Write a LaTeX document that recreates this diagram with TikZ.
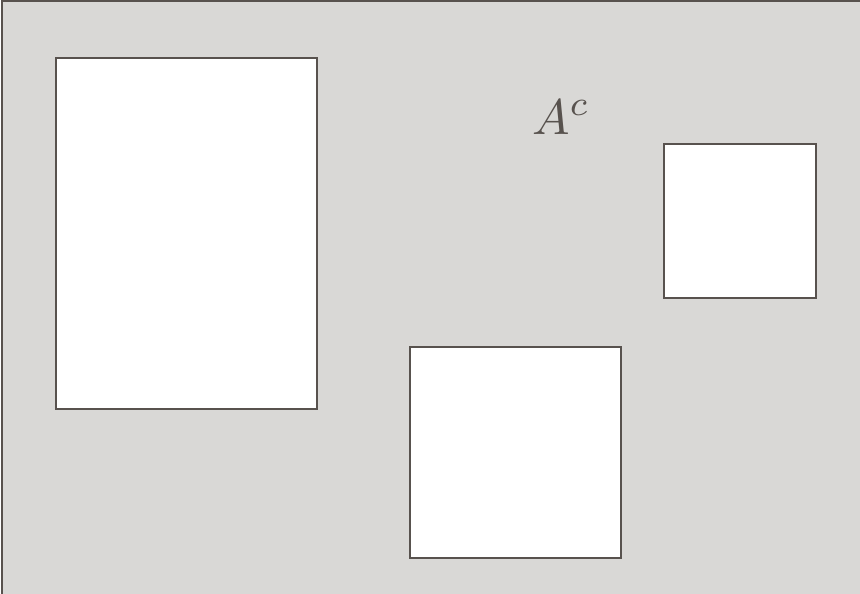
\documentclass[tikz,border=0pt]{standalone}
\begin{document}
\begin{tikzpicture}[x=1pt,y=-1pt,
  setbox/.style={draw=ln, fill=white, line width=2pt, inner sep=0pt, anchor=north west},
]
\definecolor{bgc}{HTML}{D9D8D6}
\definecolor{ln}{HTML}{58524E}
\useasboundingbox (0,0) rectangle (860,594);
\path[fill=bgc, draw=ln, line width=2pt] (1.5,1.5) rectangle (880,620);
\node[setbox, minimum width=261pt, minimum height=351pt] (big) at (55,57) {};
\node[setbox, minimum width=152pt, minimum height=154pt] (small) at (663,143) {};
\node[setbox, minimum width=211pt, minimum height=211pt] (mid) at (409,346) {};
\node[text=ln, inner sep=0pt, scale=5] (lab) at (561,117) {$A^{c}$};
\end{tikzpicture}
\end{document}
